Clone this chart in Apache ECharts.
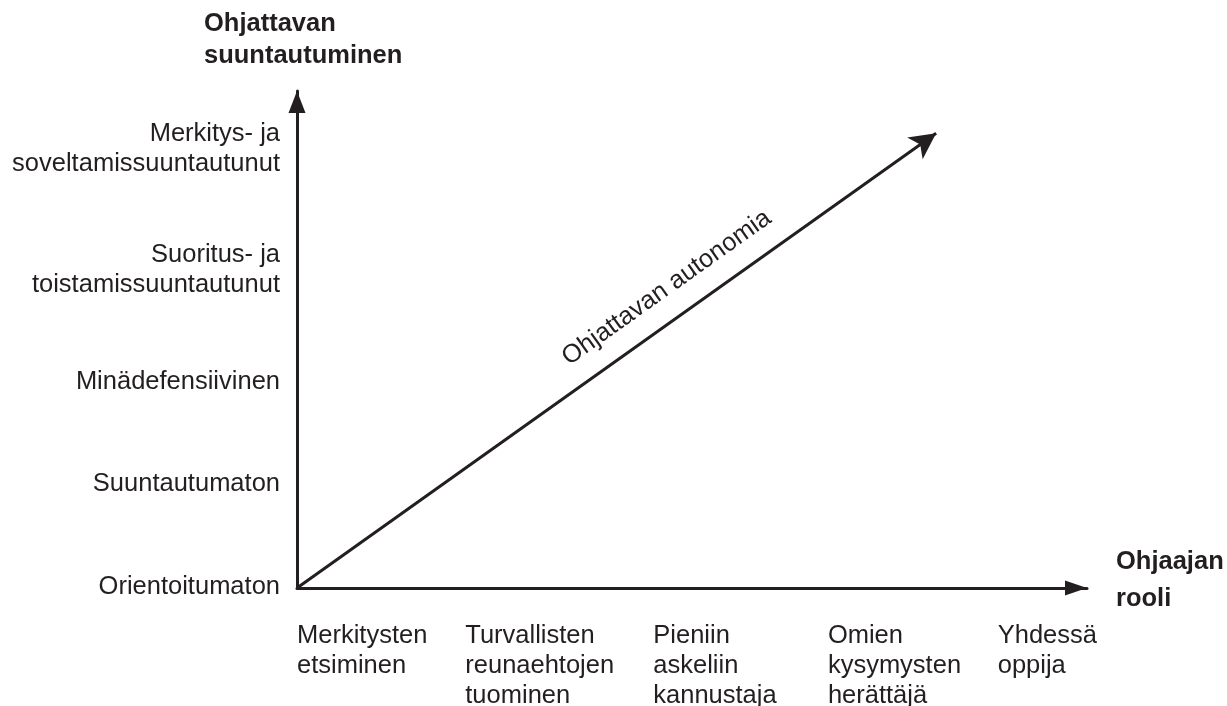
<!DOCTYPE html>
<html>
<head>
<meta charset="utf-8">
<script src="https://cdn.jsdelivr.net/npm/echarts@6/dist/echarts.min.js"></script>
<style>
  html, body { margin: 0; padding: 0; background: #ffffff; }
  #chart { width: 1227px; height: 706px; }
</style>
</head>
<body>
<div id="chart"></div>
<script>
// ---- data ----
const yAxisTitle = 'Ohjattavan\nsuuntautuminen';
const xAxisTitle = 'Ohjaajan\nrooli';

// learner orientation levels (bottom to top) and their positions on the vertical axis
const orientationLabels = [
  'Orientoitumaton',
  'Suuntautumaton',
  'Minädefensiivinen',
  'Suoritus- ja\ntoistamissuuntautunut',
  'Merkitys- ja\nsoveltamissuuntautunut'
];
const orientationLevels = [0.02, 2.09, 4.15, 6.4, 8.83];

// supervisor roles (left to right) and their positions on the horizontal axis
const roleLabels = [
  'Merkitysten\netsiminen',
  'Turvallisten\nreunaehtojen\ntuominen',
  'Pieniin\naskeliin\nkannustaja',
  'Omien\nkysymysten\nherättäjä',
  'Yhdessä\noppija'
];
const roleLevels = [0, 2.13, 4.51, 6.72, 8.87];

// diagonal "autonomy" arrow: start and end points
const autonomyArrow = [[0, 0], [8.09, 9.15]];
const autonomyLabel = 'Ohjattavan autonomia';
const autonomyLabelAt = [4.68, 6.04];

const axisMax = 10;

// ---- styling ----
const INK = '#231f20';
const FONT = '"Liberation Sans", Arial, Helvetica, sans-serif';
const FS = 25.5;

const chart = echarts.init(document.getElementById('chart'), null, { renderer: 'canvas' });

const axisCommon = {
  type: 'value',
  min: 0,
  max: axisMax,
  axisTick: { show: false },
  axisLabel: { show: false },
  splitLine: { show: false }
};

const textLabel = {
  show: true,
  formatter: p => p.name,
  fontFamily: FONT,
  fontSize: FS,
  color: INK,
  opacity: 1
};

chart.setOption({
  animation: false,
  backgroundColor: '#ffffff',
  title: [
    {
      text: yAxisTitle,
      left: 204,
      top: 8,
      padding: 0,
      textStyle: { fontFamily: FONT, fontSize: FS, fontWeight: 'bold', lineHeight: 32, color: INK }
    },
    {
      text: xAxisTitle,
      left: 1116,
      top: 543,
      padding: 0,
      textStyle: { fontFamily: FONT, fontSize: FS, fontWeight: 'bold', lineHeight: 37, color: INK }
    }
  ],
  grid: { left: 297, right: 140, top: 91, bottom: 118, containLabel: false },
  xAxis: Object.assign({}, axisCommon, {
    axisLine: {
      show: true,
      symbol: ['none', 'triangle'],
      symbolSize: [15, 22],
      symbolOffset: [0, -11],
      lineStyle: { color: INK, width: 3 }
    }
  }),
  yAxis: Object.assign({}, axisCommon, {
    axisLine: {
      show: true,
      symbol: ['none', 'triangle'],
      symbolSize: [17, 22],
      symbolOffset: [0, -11],
      lineStyle: { color: INK, width: 3 }
    }
  }),
  series: [
    {
      name: 'orientation',
      type: 'scatter',
      silent: true,
      symbolSize: 0,
      itemStyle: { opacity: 1 },
      data: orientationLevels.map((v, i) => ({ value: [0, v], name: orientationLabels[i] })),
      label: Object.assign({}, textLabel, {
        position: 'left',
        distance: 17,
        lineHeight: 30,
        align: 'right'
      }),
      markLine: {
        silent: true,
        symbol: ['none', 'arrow'],
        symbolSize: [20, 26],
        lineStyle: { color: INK, width: 3, type: 'solid', opacity: 1 },
        label: { show: false },
        data: [[{ coord: autonomyArrow[0] }, { coord: autonomyArrow[1] }]]
      }
    },
    {
      name: 'roles',
      type: 'scatter',
      silent: true,
      symbolSize: 0,
      itemStyle: { opacity: 1 },
      data: roleLevels.map((v, i) => ({ value: [v, 0], name: roleLabels[i] })),
      label: Object.assign({}, textLabel, {
        position: 'bottom',
        distance: 33,
        align: 'left',
        lineHeight: 30
      })
    },
    {
      name: 'autonomyLabel',
      type: 'scatter',
      silent: true,
      symbolSize: 0,
      itemStyle: { opacity: 1 },
      data: [{ value: autonomyLabelAt, name: autonomyLabel }],
      label: Object.assign({}, textLabel, {
        position: 'inside',
        rotate: 35.4
      })
    }
  ]
});
</script>
</body>
</html>
